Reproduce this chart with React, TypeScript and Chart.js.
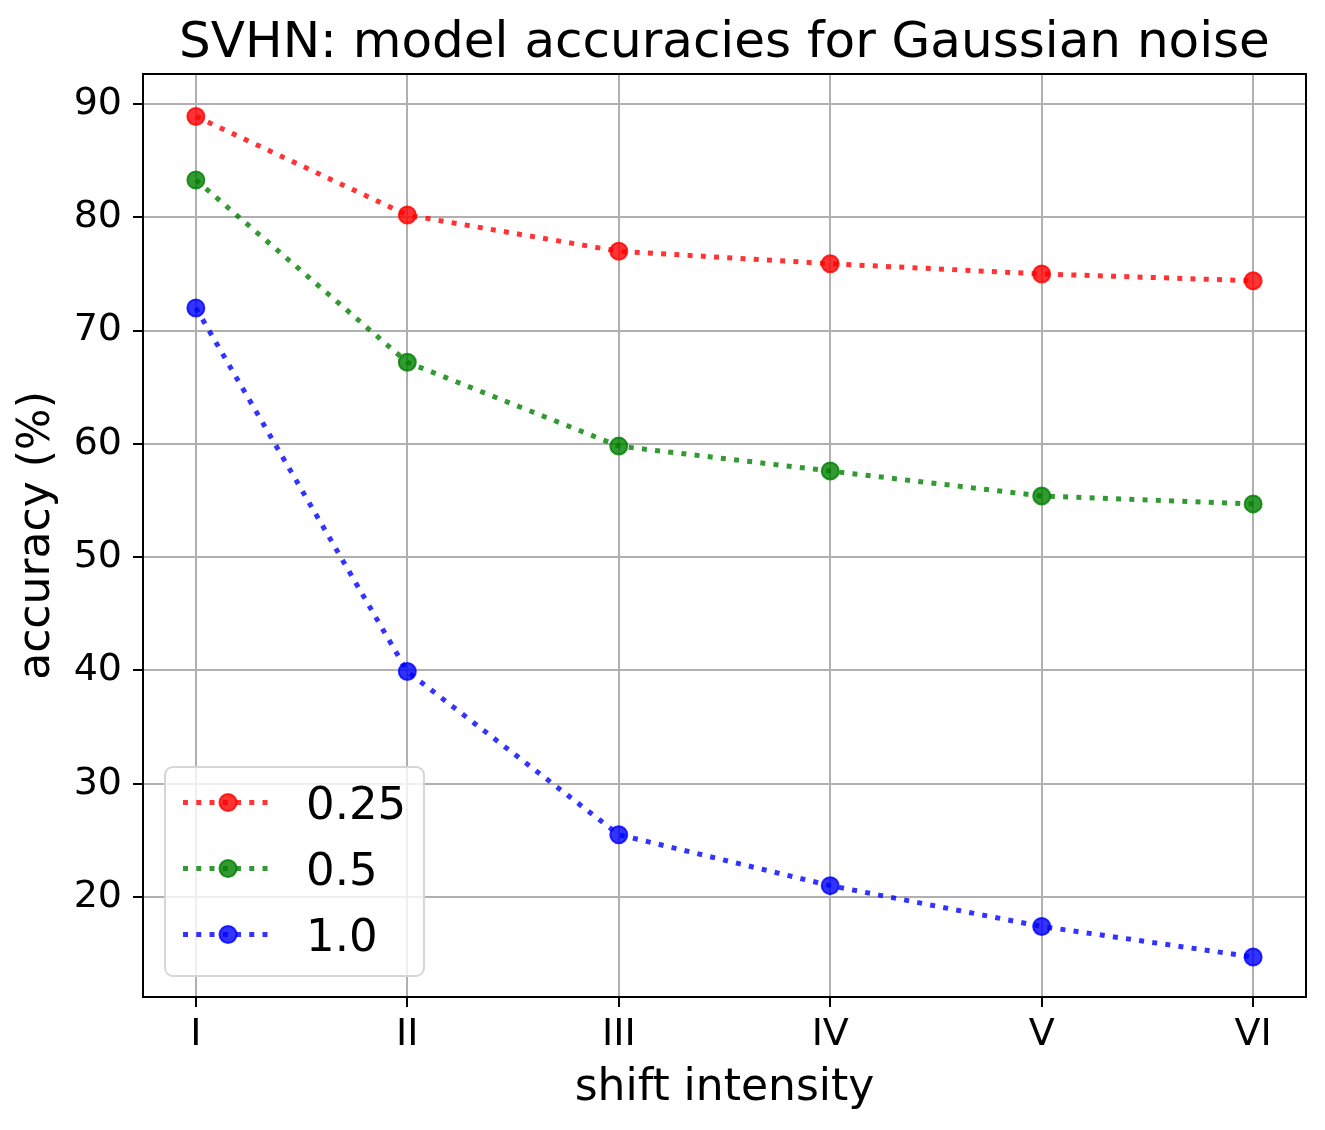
import { useEffect, useRef } from 'react'
import { Chart, registerables } from 'chart.js'

Chart.register(...registerables)

// shift intensity levels (x axis) and accuracies per noise level
const levels = ['I', 'II', 'III', 'IV', 'V', 'VI']
const noiseLabels = ['0.25', '0.5', '1.0']
const acc025 = [88.9, 80.2, 77.0, 75.9, 75.0, 74.4]
const acc05 = [83.3, 67.2, 59.8, 57.6, 55.4, 54.7]
const acc10 = [72.0, 39.9, 25.5, 21.0, 17.4, 14.7]
const yTicks = [20, 30, 40, 50, 60, 70, 80, 90]

const FONT = '"DejaVu Sans", "Noto Sans", sans-serif'
const DASH = [5, 8.25]

// draws the full axes frame (matplotlib spines) and the legend box inside the plot
const framePlugin = {
  id: 'frameAndLegend',
  afterDraw(chart: Chart) {
    const { ctx, chartArea } = chart
    const { left, top, right, bottom } = chartArea
    ctx.save()
    ctx.strokeStyle = '#000'
    ctx.lineWidth = 2
    ctx.strokeRect(left, top, right - left, bottom - top)

    // legend
    const bx = left + 22
    const bw = 259
    const bh = 209
    const by = bottom - 21 - bh
    ctx.beginPath()
    ctx.roundRect(bx, by, bw, bh, 8)
    ctx.fillStyle = 'rgba(255,255,255,0.8)'
    ctx.fill()
    ctx.strokeStyle = '#d6d6d6'
    ctx.lineWidth = 2
    ctx.stroke()

    chart.data.datasets.forEach((ds: any, i: number) => {
      const cy = by + 35.5 + i * 66
      ctx.beginPath()
      ctx.setLineDash(DASH)
      ctx.lineWidth = 5
      ctx.strokeStyle = ds.borderColor
      ctx.moveTo(bx + 18, cy)
      ctx.lineTo(bx + 107, cy)
      ctx.stroke()
      ctx.setLineDash([])
      ctx.beginPath()
      ctx.arc(bx + 63, cy, 8.5, 0, Math.PI * 2)
      ctx.fillStyle = ds.pointBackgroundColor
      ctx.fill()
      ctx.lineWidth = 2
      ctx.strokeStyle = ds.pointBorderColor
      ctx.stroke()

      ctx.fillStyle = '#000'
      ctx.font = `45px ${FONT}`
      ctx.textAlign = 'left'
      ctx.textBaseline = 'alphabetic'
      ctx.fillText(ds.label, bx + 141, cy + 16.5)
    })
    ctx.restore()
  }
}

function makeSet(label: string, values: number[], color: string) {
  return {
    label,
    data: values.map((y, i) => ({ x: i, y })),
    borderColor: color,
    backgroundColor: color,
    pointBackgroundColor: color,
    pointBorderColor: color,
    borderWidth: 5,
    borderDash: DASH,
    pointRadius: 8.5,
    pointBorderWidth: 2,
    tension: 0,
    fill: false
  }
}

export default function App() {
  const chartRef = useRef<HTMLCanvasElement | null>(null)
  const chartInstance = useRef<Chart | null>(null)

  useEffect(() => {
    document.body.style.margin = '0'
    if (chartRef.current) {
      if (chartInstance.current) {
        chartInstance.current.destroy()
      }
      const ctx = chartRef.current.getContext('2d')
      if (ctx) {
        chartInstance.current = new Chart(ctx, {
          type: 'line',
          data: {
            datasets: [
              makeSet(noiseLabels[0], acc025, 'rgba(255, 0, 0, 0.8)'),
              makeSet(noiseLabels[1], acc05, 'rgba(0, 128, 0, 0.8)'),
              makeSet(noiseLabels[2], acc10, 'rgba(0, 0, 255, 0.8)')
            ]
          },
          options: {
            responsive: false,
            animation: false,
            devicePixelRatio: 1,
            layout: { padding: { top: 0, right: 19, bottom: 0, left: 0 } },
            scales: {
              x: {
                type: 'linear',
                min: -0.25,
                max: levels.length - 0.75,
                afterBuildTicks: (scale: any) => {
                  scale.ticks = levels.map((_, i) => ({ value: i }))
                },
                afterFit: (scale: any) => {
                  scale.height = 133
                },
                ticks: {
                  color: '#000',
                  font: { family: FONT, size: 38 },
                  padding: 5,
                  maxRotation: 0,
                  callback: (v: any) => levels[Math.round(Number(v))] ?? ''
                },
                grid: { color: '#b0b0b0', lineWidth: 2, tickColor: '#000', tickLength: 10, tickWidth: 2 },
                border: { display: false },
                title: {
                  display: true,
                  text: 'shift intensity',
                  color: '#000',
                  font: { family: FONT, size: 44 },
                  padding: { top: 0, bottom: 15 }
                }
              },
              y: {
                type: 'linear',
                min: 11.17,
                max: 92.65,
                afterBuildTicks: (scale: any) => {
                  scale.ticks = yTicks.map((v) => ({ value: v }))
                },
                afterFit: (scale: any) => {
                  scale.width = 143
                },
                ticks: {
                  color: '#000',
                  font: { family: FONT, size: 38 },
                  padding: 11
                },
                grid: { color: '#b0b0b0', lineWidth: 2, tickColor: '#000', tickLength: 10, tickWidth: 2 },
                border: { display: false },
                title: {
                  display: true,
                  text: 'accuracy (%)',
                  color: '#000',
                  font: { family: FONT, size: 44 },
                  padding: { top: 11, bottom: 0 }
                }
              }
            },
            plugins: {
              legend: { display: false },
              tooltip: { enabled: false },
              title: {
                display: true,
                text: 'SVHN: model accuracies for Gaussian noise',
                color: '#000',
                fullSize: false,
                font: { family: FONT, size: 50, weight: 'normal' },
                padding: { top: 14, bottom: 0 }
              }
            }
          },
          plugins: [framePlugin]
        } as any)
      }
    }
    return () => {
      if (chartInstance.current) {
        chartInstance.current.destroy()
        chartInstance.current = null
      }
    }
  }, [])

  return (
    <div style={{ position: 'absolute', left: 0, top: 0, width: 1325, height: 1130, background: '#fff' }}>
      <canvas ref={chartRef} width={1325} height={1130}></canvas>
    </div>
  )
}
